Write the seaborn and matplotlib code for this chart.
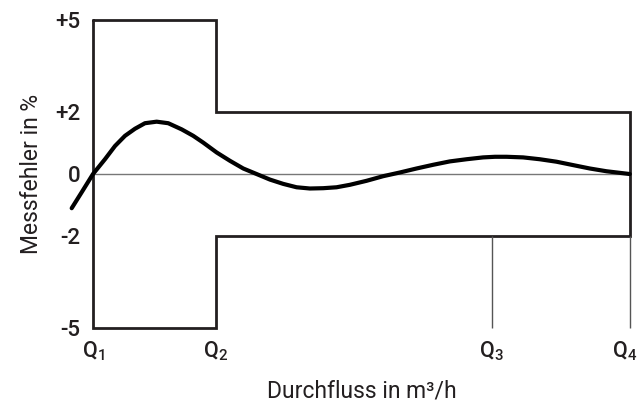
import numpy as np
import pandas as pd
import seaborn as sns
import matplotlib.pyplot as plt
import matplotlib.transforms as mtransforms

# flow positions (relative, Q1 = 0 .. Q4 = 100)
q_labels = [r"$\mathregular{Q_1}$", r"$\mathregular{Q_2}$", r"$\mathregular{Q_3}$", r"$\mathregular{Q_4}$"]
q_pos = [0, 22.9, 74.3, 100]

# error limits
outer_limit = 5
inner_limit = 2
y_ticks = [5, 2, 0, -2, -5]
y_ticklabels = ["+5", "+2", "0", "-2", "-5"]

flow = [-3.97, -2.10, 0, 2.23, 4.10, 5.96, 7.82, 9.68, 11.86, 14.02, 16.52,
        18.68, 20.54, 23.04, 25.51, 27.99, 30.48, 32.96, 35.44, 37.93, 40.41,
        42.89, 45.38, 47.86, 50.97, 54.06, 57.17, 60.28, 63.37, 66.48, 69.59,
        72.68, 74.9, 77.04, 80.13, 83.24, 86.35, 89.44, 92.55, 95.66, 100]
error = [-1.11, -0.59, 0, 0.48, 0.91, 1.24, 1.47, 1.65, 1.70, 1.65, 1.45,
         1.24, 1.02, 0.70, 0.43, 0.18, 0, -0.18, -0.32, -0.43, -0.47,
         -0.46, -0.43, -0.35, -0.22, -0.07, 0.05, 0.18, 0.30, 0.41, 0.48,
         0.54, 0.56, 0.56, 0.54, 0.48, 0.40, 0.29, 0.18, 0.09, 0]

sns.set_style("white")
plt.rcParams["font.family"] = ["Roboto", "DejaVu Sans"]
ink = "#231f20"

fig = plt.figure(figsize=(6.4, 4.09), dpi=100)
ax = fig.add_axes([0.1453, 0.198, 0.984 - 0.1453, 0.951 - 0.198])

# tolerance envelope
env = pd.DataFrame({
    "x": [q_pos[0], q_pos[1], q_pos[1], q_pos[3], q_pos[3], q_pos[1], q_pos[1], q_pos[0], q_pos[0]],
    "y": [outer_limit, outer_limit, inner_limit, inner_limit, -inner_limit,
          -inner_limit, -outer_limit, -outer_limit, outer_limit],
})
ax.axhline(0, xmin=0, xmax=1, color="#777777", lw=1)
sns.lineplot(data=env, x="x", y="y", sort=False, estimator=None, color=ink, lw=2,
             ax=ax, clip_on=False, solid_joinstyle="miter")

# reference lines for Q3 and Q4
ax.vlines([q_pos[2], q_pos[3]], -outer_limit, -inner_limit, color="#555555", lw=1, clip_on=False)

curve = pd.DataFrame({"flow": flow, "error": error})
sns.lineplot(data=curve, x="flow", y="error", color="black", lw=3, ax=ax,
             clip_on=False, estimator=None, solid_capstyle="round")

ax.set_xlim(0, 100)
ax.set_ylim(-5, 5)
sns.despine(ax=ax, left=True, bottom=True, top=True, right=True)

ax.set_xticks(q_pos)
ax.set_xticklabels(q_labels, fontsize=15.5, color=ink, fontweight="medium")
ax.set_yticks(y_ticks)
ax.set_yticklabels(y_ticklabels, fontsize=16, color=ink, fontweight="medium")
ax.tick_params(axis="x", length=7, width=1, color="#555555", pad=1)
ax.tick_params(axis="y", length=6, width=1, color="#555555", pad=3)

# pull the last label in so it stays inside the figure
last = ax.get_xticklabels()[-1]
last.set_transform(last.get_transform() + mtransforms.ScaledTranslation(-5 / 100, 0, fig.dpi_scale_trans))

ax.set_xlabel("Durchfluss in m³/h", fontsize=16.5, color=ink, labelpad=12)
ax.set_ylabel("Messfehler in %", fontsize=16.5, color=ink, labelpad=9)

plt.savefig("out.png", dpi=100)
